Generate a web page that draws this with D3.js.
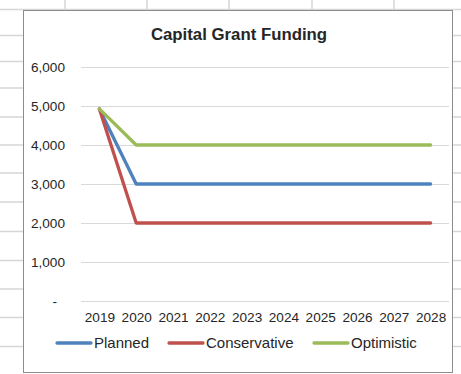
<!DOCTYPE html>
<html>
<head>
<meta charset="utf-8">
<script src="https://cdn.jsdelivr.net/npm/d3@7"></script>
<style>
  html, body { margin: 0; padding: 0; background: #fff; }
  svg { display: block; }
  text { font-family: "Liberation Sans", "DejaVu Sans", sans-serif; fill: #262626; }
</style>
</head>
<body>
<svg id="chart" width="461" height="374"></svg>
<script>
// Funding scenarios, in thousands
const years = ["2019", "2020", "2021", "2022", "2023", "2024", "2025", "2026", "2027", "2028"];
const planned      = [4925, 3000, 3000, 3000, 3000, 3000, 3000, 3000, 3000, 3000];
const conservative = [4925, 2000, 2000, 2000, 2000, 2000, 2000, 2000, 2000, 2000];
const optimistic   = [4925, 4000, 4000, 4000, 4000, 4000, 4000, 4000, 4000, 4000];
const yTicks = [0, 1000, 2000, 3000, 4000, 5000, 6000];
const seriesNames = ["Planned", "Conservative", "Optimistic"];
const seriesColors = ["#4f81bd", "#c0504d", "#9bbb59"];
const title = "Capital Grant Funding";

const series = [planned, conservative, optimistic].map((vals, i) => ({
  name: seriesNames[i],
  color: seriesColors[i],
  points: vals.map((v, j) => ({ year: years[j], value: v }))
}));

const svg = d3.select("#chart");

// Worksheet cell grid behind the embedded chart
const sheet = svg.append("g").attr("stroke", "#d6d6d6").attr("stroke-width", 1.5);
[35.5, 61.5, 88, 117, 145, 173, 202, 231.5, 260.5, 289, 317.5, 346.5].forEach(y => {
  sheet.append("line").attr("x1", 0).attr("x2", 461).attr("y1", y).attr("y2", y);
});
sheet.append("line").attr("x1", 0).attr("x2", 461).attr("y1", 9.5).attr("y2", 9.5);
[65, 147, 229, 312, 394].forEach(x => {
  sheet.append("line").attr("x1", x).attr("x2", x).attr("y1", 0).attr("y2", 10);
});

// Chart area
svg.append("rect")
  .attr("x", 23.5).attr("y", 10.5)
  .attr("width", 429).attr("height", 362)
  .attr("fill", "#fff").attr("stroke", "#8c8c8c").attr("stroke-width", 1);

const x = d3.scalePoint().domain(years).range([81, 449]).padding(0.5);
const y = d3.scaleLinear().domain([0, 6000]).range([301, 67]);

// Horizontal gridlines
svg.append("g")
  .selectAll("line")
  .data(yTicks)
  .join("line")
  .attr("x1", 81).attr("x2", 449)
  .attr("y1", d => Math.round(y(d)) + 0.5).attr("y2", d => Math.round(y(d)) + 0.5)
  .attr("stroke", "#d9d9d9").attr("stroke-width", 1);

// Y axis labels (accounting style: zero shown as a dash)
const yAxis = d3.axisLeft(y)
  .tickValues(yTicks)
  .tickSize(0)
  .tickPadding(0)
  .tickFormat(d => d === 0 ? "-" : d3.format(",")(d));
const yg = svg.append("g").attr("transform", "translate(65,0)").call(yAxis);
yg.select(".domain").remove();
yg.selectAll("text")
  .attr("font-size", 13.6)
  .attr("fill", "#404040")
  .style("font-family", "Liberation Sans, sans-serif")
  .attr("dx", d => d === 0 ? -8 : 0);

// X axis labels
const xAxis = d3.axisBottom(x).tickSize(0).tickPadding(0);
const xg = svg.append("g").attr("transform", "translate(0,312)").call(xAxis);
xg.select(".domain").remove();
xg.selectAll("text")
  .attr("font-size", 13.6)
  .attr("fill", "#262626")
  .attr("dy", "0.71em")
  .attr("y", 0)
  .style("font-family", "Liberation Sans, sans-serif");

// Series lines
const line = d3.line().x(d => x(d.year)).y(d => y(d.value));
svg.append("g")
  .selectAll("path")
  .data(series)
  .join("path")
  .attr("d", d => line(d.points))
  .attr("fill", "none")
  .attr("stroke", d => d.color)
  .attr("stroke-width", 3.3)
  .attr("stroke-linejoin", "round")
  .attr("stroke-linecap", "round");

// Title
svg.append("text")
  .attr("x", 239).attr("y", 40)
  .attr("text-anchor", "middle")
  .attr("font-size", 16.8)
  .attr("font-weight", "bold")
  .attr("fill", "#1a1a1a")
  .text(title);

// Legend
const legendX = [57, 169, 314];
const lg = svg.append("g")
  .selectAll("g")
  .data(series)
  .join("g")
  .attr("transform", (d, i) => `translate(${legendX[i]},343)`);
lg.append("line")
  .attr("x1", 0).attr("x2", 34).attr("y1", 0).attr("y2", 0)
  .attr("stroke", d => d.color).attr("stroke-width", 3.3).attr("stroke-linecap", "round");
lg.append("text")
  .attr("x", 37).attr("y", 0).attr("dy", "0.35em")
  .attr("font-size", 15)
  .attr("fill", "#262626")
  .text(d => d.name);
</script>
</body>
</html>
